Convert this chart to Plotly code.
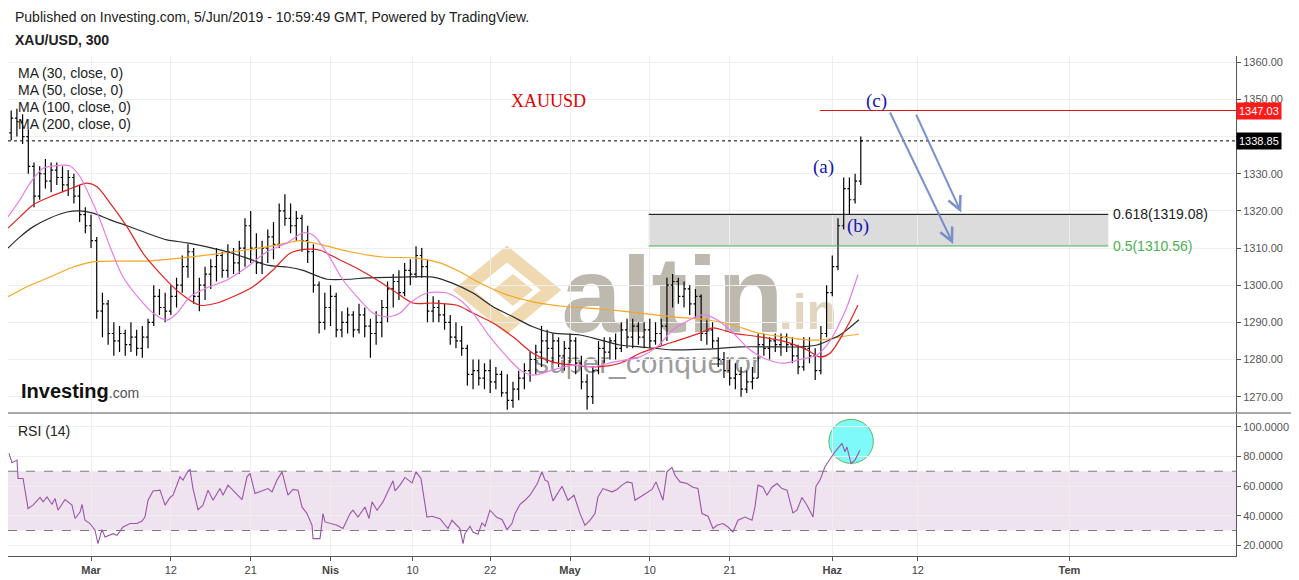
import plotly.graph_objects as go

# ---------------- data ----------------
# 5-hour XAU/USD bars, sampled at half trading-day steps; day 0 = 1 Mar 2019
bar_open = [1341, 1345, 1344, 1340, 1332, 1324, 1330, 1328, 1331, 1329,
            1327, 1329, 1324, 1319, 1316, 1312, 1293, 1295, 1287, 1285,
            1287, 1284, 1286, 1283, 1286, 1290, 1297, 1294, 1293, 1297,
            1300, 1305, 1309, 1297, 1300, 1303, 1305, 1308, 1304, 1309,
            1306, 1310, 1316, 1310, 1306, 1310, 1313, 1311, 1320, 1318,
            1316, 1318, 1312, 1309, 1300, 1290, 1294, 1297, 1288, 1290,
            1292, 1288, 1292, 1289, 1287, 1290, 1294, 1299, 1301, 1298,
            1304, 1303, 1308, 1305, 1293, 1294, 1292, 1290, 1286, 1285,
            1283, 1276, 1277, 1275, 1277, 1274, 1276, 1271, 1269, 1272,
            1275, 1277, 1280, 1282, 1285, 1283, 1285, 1281, 1283, 1285,
            1279, 1274, 1270, 1277, 1283, 1282, 1285, 1283, 1288, 1286,
            1289, 1286, 1288, 1285, 1287, 1289, 1300, 1301, 1297, 1299,
            1295, 1297, 1287, 1288, 1285, 1280, 1277, 1275, 1276, 1272,
            1274, 1275, 1284, 1283, 1285, 1284, 1286, 1284, 1281, 1278,
            1283, 1281, 1277, 1287, 1298, 1305, 1316, 1326, 1323, 1328]
bar_high = [1347, 1347.5, 1346, 1342, 1333, 1332, 1334, 1333, 1333, 1332,
            1331, 1330, 1327, 1321, 1319, 1313, 1298, 1296, 1290, 1289,
            1288, 1290, 1288, 1289, 1291, 1300, 1299, 1298, 1300, 1302,
            1308, 1311, 1310, 1302, 1305, 1307, 1310, 1309, 1311, 1310,
            1312, 1318, 1320, 1314, 1312, 1315, 1317, 1322, 1324.5, 1322,
            1320, 1319, 1316, 1311, 1301, 1298, 1300, 1298, 1293, 1294,
            1293, 1295, 1294, 1291, 1293, 1296, 1301, 1303, 1304, 1306,
            1307, 1310.5, 1310, 1307, 1297, 1296, 1295, 1292, 1290, 1289,
            1284, 1280, 1280, 1279, 1280, 1278, 1277, 1276, 1274, 1277,
            1279, 1282, 1284, 1289, 1288, 1287, 1286, 1285, 1287, 1286,
            1281, 1276, 1278, 1285, 1286, 1286, 1287, 1290, 1291, 1291,
            1290, 1290, 1291, 1290, 1291, 1302, 1303, 1302, 1301, 1300,
            1299, 1297.5, 1291, 1290, 1286, 1282, 1280, 1279, 1278, 1277,
            1278, 1287, 1287, 1286, 1287, 1287, 1287, 1286, 1284, 1286,
            1286, 1283, 1289, 1300, 1308, 1318, 1329, 1329, 1330, 1340]
bar_low = [1339, 1340, 1338, 1330, 1321, 1323, 1326, 1325, 1327, 1325,
           1324, 1322, 1317, 1314, 1310, 1291, 1286, 1284, 1281, 1282,
           1281, 1282, 1281, 1280.5, 1283, 1289, 1292, 1290, 1292, 1294,
           1298, 1302, 1295, 1293, 1296, 1299, 1301, 1302, 1302, 1303,
           1303, 1305, 1306, 1303, 1303, 1306, 1307, 1310, 1316, 1314,
           1312, 1309, 1306, 1298, 1287, 1288, 1289, 1286, 1286, 1287,
           1286, 1287, 1286, 1280.5, 1284, 1286, 1290, 1294, 1296, 1297,
           1300, 1302, 1302, 1290, 1290, 1290, 1288, 1284, 1283, 1281,
           1273, 1272, 1273, 1272, 1271, 1272, 1270, 1266.5, 1267, 1269,
           1272, 1274, 1276, 1278, 1279, 1279, 1278, 1277, 1279, 1276,
           1272, 1266.5, 1268, 1276, 1279, 1280, 1280, 1282, 1283, 1283,
           1284, 1283, 1283, 1284, 1284, 1285, 1294, 1295, 1294, 1292,
           1291, 1285, 1284, 1283, 1278, 1275, 1273, 1272, 1270, 1271,
           1272, 1275, 1281, 1280, 1282, 1281, 1282, 1279, 1276, 1277,
           1279, 1274.5, 1276, 1286, 1297, 1304, 1315, 1319, 1322, 1327]
bar_close = [1345, 1344, 1340, 1332, 1324, 1330, 1328, 1331, 1329, 1327,
             1329, 1324, 1319, 1316, 1312, 1293, 1295, 1287, 1285, 1287,
             1284, 1286, 1283, 1286, 1290, 1297, 1294, 1293, 1297, 1300,
             1305, 1309, 1297, 1300, 1303, 1305, 1308, 1304, 1309, 1306,
             1310, 1316, 1310, 1306, 1310, 1313, 1311, 1320, 1318, 1316,
             1318, 1312, 1309, 1300, 1290, 1294, 1297, 1288, 1290, 1292,
             1288, 1292, 1289, 1287, 1290, 1294, 1299, 1301, 1298, 1304,
             1303, 1308, 1305, 1293, 1294, 1292, 1290, 1286, 1285, 1283,
             1276, 1277, 1275, 1277, 1274, 1276, 1271, 1269, 1272, 1275,
             1277, 1280, 1282, 1285, 1283, 1285, 1281, 1283, 1285, 1279,
             1274, 1270, 1277, 1283, 1282, 1285, 1283, 1288, 1286, 1289,
             1286, 1288, 1285, 1287, 1289, 1300, 1301, 1297, 1299, 1295,
             1297, 1287, 1288, 1285, 1280, 1277, 1275, 1276, 1272, 1274,
             1275, 1284, 1283, 1285, 1284, 1286, 1284, 1281, 1278, 1283,
             1281, 1277, 1287, 1298, 1305, 1316, 1326, 1323, 1328, 1338.85]
first_bar_day = -7.0
bar_step = 0.5
bar_day = [first_bar_day + bar_step * i for i in range(len(bar_close))]

ma30_day = [-7.28, -6.23, -5.35, -4.21, -3.33, -1.84, -0.96, -0.09, 0.79, 1.67,
            2.81, 4.30, 5.44, 6.66, 7.54, 8.68, 10.17, 11.92, 13.68, 15.43,
            17.19, 18.59, 19.47, 20.69, 22.10, 23.59, 24.73, 25.95, 27.09, 27.97,
            29.46, 31.21, 32.35, 33.49, 34.98, 36.48, 37.62, 38.75, 40.51, 42.26,
            44.02, 45.77, 48.14, 49.63, 51.03, 52.52, 53.66, 54.89, 56.29, 57.78,
            59.27, 60.68, 62.17, 63.66, 64.80, 65.67, 66.29, 67.25]
ma30_val = [1318.4, 1323.0, 1327.5, 1331.5, 1332.1, 1332.1, 1329.2, 1323.8, 1317.6, 1310.3,
            1302.2, 1296.1, 1292.5, 1290.6, 1292.5, 1296.9, 1299.3, 1301.4, 1304.9, 1309.0,
            1311.4, 1314.1, 1313.5, 1308.7, 1301.4, 1296.0, 1292.5, 1291.5, 1292.5, 1295.2,
            1297.9, 1297.9, 1296.0, 1292.5, 1286.1, 1280.7, 1277.2, 1275.8, 1277.2, 1278.5,
            1278.0, 1279.3, 1280.7, 1283.4, 1288.0, 1290.7, 1292.0, 1290.7, 1287.2, 1282.6,
            1280.0, 1279.0, 1280.0, 1281.2, 1285.0, 1290.0, 1294.2, 1302.8]

ma50_day = [-7.28, -6.23, -5.09, -3.59, -2.10, -0.96, -0.35, 0.53, 1.67, 3.16,
            4.56, 6.05, 7.80, 9.56, 11.05, 12.45, 14.20, 15.96, 17.45, 18.94,
            20.08, 21.83, 23.59, 25.08, 26.83, 28.23, 29.99, 32.09, 33.49, 35.25,
            37.00, 38.75, 40.51, 42.26, 44.02, 46.38, 48.14, 51.03, 53.40, 54.54,
            56.29, 58.66, 61.03, 62.78, 63.92, 64.80, 66.29, 67.25]
ma50_val = [1315.4, 1318.4, 1321.6, 1323.8, 1325.6, 1327.0, 1327.5, 1326.5, 1322.1, 1315.7,
            1308.6, 1303.2, 1297.9, 1294.6, 1295.2, 1296.9, 1299.6, 1304.1, 1308.6, 1309.7,
            1309.4, 1306.8, 1304.1, 1301.4, 1297.9, 1295.2, 1295.2, 1294.6, 1292.5, 1289.8,
            1286.1, 1281.7, 1279.3, 1278.5, 1278.0, 1279.0, 1281.7, 1284.7, 1287.1, 1288.5,
            1287.1, 1286.1, 1284.7, 1282.6, 1280.7, 1281.7, 1288.8, 1294.7]

ma100_day = [-7.28, -6.23, -5.09, -3.59, -2.10, -0.96, 0.18, 1.67, 3.16, 4.91,
             6.66, 8.42, 10.17, 11.92, 13.68, 15.43, 17.19, 18.59, 20.08, 20.69,
             22.71, 24.20, 27.09, 29.99, 31.74, 33.49, 35.25, 37.00, 38.75, 40.51,
             42.88, 44.63, 46.38, 48.14, 51.03, 54.01, 56.90, 59.80, 62.17, 63.66,
             64.80, 65.67, 66.29, 67.34]
ma100_val = [1310.0, 1313.0, 1315.7, 1318.1, 1319.7, 1320.0, 1319.4, 1317.6, 1316.0, 1314.0,
             1312.2, 1311.4, 1310.3, 1309.0, 1307.3, 1305.4, 1304.9, 1304.0, 1302.2, 1301.6,
             1301.6, 1302.0, 1302.2, 1302.2, 1300.5, 1297.9, 1294.2, 1291.5, 1288.8, 1287.1,
             1286.6, 1285.3, 1283.9, 1283.4, 1282.6, 1282.8, 1283.4, 1283.4, 1283.4, 1283.9,
             1285.3, 1286.6, 1288.0, 1290.7]

ma200_day = [-7.28, -5.61, -3.59, -1.58, 0.18, 2.28, 4.91, 7.19, 9.56, 12.45,
             15.43, 17.71, 18.33, 20.08, 22.71, 25.60, 28.58, 30.60, 32.35, 34.11,
             36.48, 38.75, 41.74, 44.63, 46.38, 48.14, 51.03, 54.01, 56.29, 58.40,
             60.68, 62.78, 64.18, 65.67, 67.34]
ma200_val = [1296.9, 1299.6, 1302.2, 1304.9, 1306.3, 1306.5, 1306.5, 1307.1, 1307.9, 1309.0,
             1310.3, 1311.7, 1312.0, 1311.0, 1309.0, 1307.6, 1307.3, 1306.0, 1303.6, 1300.6,
             1297.4, 1295.5, 1294.2, 1293.6, 1293.1, 1292.5, 1291.5, 1290.7, 1289.3, 1287.2,
             1286.1, 1285.3, 1285.3, 1286.1, 1286.8]

rsi_day = [-7.19, -6.93, -6.49, -6.40, -5.96, -5.52, -5.09, -4.47, -4.21, -3.86,
           -3.42, -3.16, -2.89, -2.28, -1.67, -1.40, -0.96, -0.79, -0.53, -0.09,
           0.35, 0.61, 0.96, 1.23, 1.93, 2.28, 2.81, 3.42, 4.03, 4.47,
           4.73, 5.00, 5.44, 6.05, 6.49, 6.93, 7.19, 7.80, 8.07, 8.51,
           8.68, 8.94, 9.38, 9.82, 10.26, 10.70, 11.31, 11.57, 12.01, 12.45,
           13.24, 13.68, 13.94, 14.38, 15.08, 15.52, 15.87, 16.31, 16.75, 17.27,
           17.71, 18.15, 18.50, 18.94, 19.38, 19.47, 20.08, 20.34, 20.52, 21.13,
           21.57, 22.10, 22.71, 22.97, 23.41, 24.02, 24.38, 24.64, 25.08, 25.60,
           26.04, 26.48, 26.66, 27.09, 27.53, 28.15, 28.50, 28.93, 29.46, 29.90,
           30.60, 31.30, 31.65, 32.09, 32.35, 32.62, 32.79, 33.23, 33.49, 33.93,
           34.28, 34.55, 34.98, 35.60, 36.04, 36.48, 36.91, 37.18, 37.62, 38.05,
           38.49, 39.11, 39.54, 39.81, 40.07, 40.51, 41.30, 41.82, 42.35, 42.88,
           43.31, 43.75, 44.19, 44.45, 44.89, 45.68, 46.12, 46.56, 47.00, 47.44,
           47.70, 48.40, 49.19, 49.54, 49.89, 50.15, 50.50, 50.94, 51.21, 51.64,
           52.26, 52.78, 53.22, 53.57, 54.10, 54.54, 54.89, 55.41, 55.85, 56.29,
           56.73, 57.34, 57.96, 58.22, 58.48, 58.92, 59.27, 59.71, 60.15, 60.59,
           61.03, 61.20, 61.55, 61.90, 62.34, 62.78, 63.31, 63.57, 63.92, 64.36,
           64.80, 65.23, 65.85, 66.11, 66.29, 66.64, 66.99, 67.43]
rsi_val = [82.0, 75.7, 77.5, 65.1, 65.1, 44.8, 47.1, 52.3, 49.3, 52.7,
           47.7, 51.6, 43.7, 50.9, 47.1, 38.1, 42.5, 47.7, 36.9, 34.7,
           30.2, 21.2, 30.6, 25.6, 27.9, 26.8, 32.4, 34.7, 34.7, 36.4,
           39.1, 50.4, 56.7, 57.2, 47.1, 52.3, 53.8, 66.2, 64.0, 70.3,
           71.2, 58.3, 44.1, 47.1, 57.2, 50.4, 58.3, 53.8, 60.6, 57.2,
           50.9, 66.2, 68.5, 55.0, 57.2, 58.3, 56.1, 64.0, 69.6, 53.8,
           57.7, 57.2, 45.9, 41.4, 33.5, 24.5, 24.5, 41.4, 35.8, 34.2,
           33.5, 31.3, 41.4, 43.7, 39.1, 45.9, 38.1, 49.3, 43.7, 49.3,
           56.1, 63.5, 56.7, 60.6, 65.8, 62.1, 69.6, 65.1, 39.1, 39.6,
           38.0, 31.3, 36.9, 33.5, 31.3, 21.2, 27.9, 32.9, 29.0, 27.5,
           35.1, 32.9, 43.7, 38.7, 37.4, 30.6, 34.7, 41.4, 47.7, 50.4,
           53.8, 61.3, 69.6, 64.0, 63.0, 50.0, 59.9, 50.4, 53.8, 41.4,
           33.5, 36.9, 41.4, 52.7, 58.3, 56.1, 57.7, 60.6, 62.8, 62.1,
           50.4, 53.8, 57.7, 62.8, 56.1, 50.4, 69.6, 72.5, 67.3, 62.8,
           61.7, 59.2, 58.3, 41.4, 39.6, 31.3, 33.5, 34.7, 32.4, 29.0,
           36.9, 39.1, 36.9, 45.9, 60.6, 59.2, 53.8, 59.2, 61.7, 58.3,
           57.2, 51.6, 41.9, 43.7, 52.3, 47.1, 39.1, 59.9, 64.0, 73.0,
           78.6, 83.1, 88.8, 83.1, 86.3, 75.2, 77.5, 84.2]

tick_days = [0, 7, 14, 21, 28.2, 35, 42, 49, 56, 65, 72.5, 85.8]
tick_text = ["<b>Mar</b>", "12", "21", "<b>Nis</b>", "10", "22", "<b>May</b>",
             "10", "21", "<b>Haz</b>", "12", "<b>Tem</b>"]
price_ticks = [1270, 1280, 1290, 1300, 1310, 1320, 1330, 1340, 1350, 1360]
rsi_ticks = [20, 40, 60, 80, 100]
rsi_upper, rsi_lower = 70, 30

last_price = 1338.85
target_price = 1347.03
fib_levels = [0.618, 0.5]
fib_prices = [1319.08, 1310.56]
fib_start_day, fib_end_day = 48.9, 89.2
target_start_day = 63.9
# wave arrows: (tail day, tail price, head day, head price)
arrows = [(70.0, 1346.9, 75.6, 1311.1), (72.3, 1346.3, 76.3, 1319.6)]
wave_labels = [("(c)", 68.9, 1349.6), ("(a)", 64.2, 1331.8), ("(b)", 67.25, 1316.0)]
rsi_circle = (64.7, 68.6, 75.3, 105.0)

# ---------------- layout geometry ----------------
W, H = 1299, 580
ML, MR, MT, MB = 8, 63, 56, 24
PW, PH = W - ML - MR, H - MT - MB
X_RANGE = [-7.28, 100.4]
SPLIT_PX = 413


def px(x):
    return (x - ML) / PW


def py(y):
    return (H - MB - y) / PH


FONT = "Liberation Sans, Arial, sans-serif"
SERIF = "Liberation Serif, Times New Roman, serif"

fig = go.Figure()

fig.add_trace(go.Ohlc(
    x=bar_day, open=bar_open, high=bar_high, low=bar_low, close=bar_close,
    increasing=dict(line=dict(color="#000000", width=1.2)),
    decreasing=dict(line=dict(color="#000000", width=1.2)),
    tickwidth=0.35, xaxis="x", yaxis="y", showlegend=False, hoverinfo="skip"))

for d, v, c in [(ma200_day, ma200_val, "#f5a623"), (ma100_day, ma100_val, "#2b2b2b"),
                (ma50_day, ma50_val, "#e02424"), (ma30_day, ma30_val, "#e87be8")]:
    fig.add_trace(go.Scatter(x=d, y=v, mode="lines", xaxis="x", yaxis="y",
                             line=dict(color=c, width=1.2, shape="spline", smoothing=0.8),
                             showlegend=False, hoverinfo="skip"))

fig.add_trace(go.Scatter(x=rsi_day, y=rsi_val, mode="lines", xaxis="x", yaxis="y2",
                         line=dict(color="#9a55a8", width=1.1),
                         showlegend=False, hoverinfo="skip"))

shapes = []
# RSI band and bounds
shapes.append(dict(type="rect", xref="paper", yref="y2", x0=0, x1=1, y0=rsi_lower, y1=rsi_upper,
                   fillcolor="#efe3f0", line=dict(width=0), layer="below"))
for lv in (rsi_lower, rsi_upper):
    shapes.append(dict(type="line", xref="paper", yref="y2", x0=0, x1=1, y0=lv, y1=lv,
                       line=dict(color="#7a7a7a", width=1, dash="dash"), layer="below"))
# cyan circle on RSI
shapes.append(dict(type="circle", xref="x", yref="y2", x0=rsi_circle[0], x1=rsi_circle[1],
                   y0=rsi_circle[2], y1=rsi_circle[3], fillcolor="#7ffafa",
                   line=dict(color="#5cb85c", width=1), layer="below"))
# fib zone
shapes.append(dict(type="rect", xref="x", yref="y", x0=fib_start_day, x1=fib_end_day,
                   y0=fib_prices[1], y1=fib_prices[0], fillcolor="#dcdcdc",
                   line=dict(width=0), layer="below"))
shapes.append(dict(type="line", xref="x", yref="y", x0=fib_start_day, x1=fib_end_day,
                   y0=fib_prices[0], y1=fib_prices[0], line=dict(color="#000000", width=1)))
shapes.append(dict(type="line", xref="x", yref="y", x0=fib_start_day, x1=fib_end_day,
                   y0=fib_prices[1], y1=fib_prices[1], line=dict(color="#4caf50", width=1)))
# target line and last price line
shapes.append(dict(type="line", xref="x", yref="y", x0=target_start_day, x1=X_RANGE[1],
                   y0=target_price, y1=target_price, line=dict(color="#e01515", width=1)))
shapes.append(dict(type="line", xref="paper", yref="y", x0=0, x1=1,
                   y0=last_price, y1=last_price, line=dict(color="#000000", width=1, dash="dot")))
# pane separator
shapes.append(dict(type="line", xref="paper", yref="paper", x0=0, x1=px(1291),
                   y0=py(SPLIT_PX), y1=py(SPLIT_PX), line=dict(color="#555555", width=1)))

# watermark (drawn below the bars)
cx, cy = 507, 290
shapes.append(dict(type="path", xref="paper", yref="paper", layer="below",
                   path=f"M {px(cx-44)} {py(cy)} L {px(cx)} {py(cy-36)} L {px(cx+44)} {py(cy)} "
                        f"L {px(cx)} {py(cy+36)} Z",
                   fillcolor="rgba(0,0,0,0)", line=dict(color="rgba(222,180,100,0.5)", width=13)))
shapes.append(dict(type="path", xref="paper", yref="paper", layer="below",
                   path=f"M {px(cx-14)} {py(cy)} L {px(cx+6)} {py(cy-16)} L {px(cx+26)} {py(cy)} "
                        f"L {px(cx+6)} {py(cy+16)} Z",
                   fillcolor="rgba(222,180,100,0.5)", line=dict(width=0)))
for txt, x0, x1, y0, y1, size, col, wt in [
        ("altin", 555, 790, 236, 332, 108, "rgba(125,115,95,0.5)", "bold"),
        (".in", 778, 838, 282, 332, 50, "rgba(205,185,145,0.6)", "bold"),
        ("super_conqueror", 525, 770, 342, 376, 30, "rgba(70,70,70,0.55)", "normal")]:
    shapes.append(dict(type="rect", xref="paper", yref="paper", layer="below",
                       x0=px(x0), x1=px(x1), y0=py(y1), y1=py(y0),
                       fillcolor="rgba(0,0,0,0)", line=dict(width=0),
                       label=dict(text=txt, textposition="middle center",
                                  font=dict(family=FONT, size=size, color=col, weight=wt))))

ann = []


def text(t, x, y, size=14, color="#222222", anchor="left", family=FONT, **kw):
    ann.append(dict(text=t, x=x, y=y, xref="paper", yref="paper", showarrow=False,
                    xanchor=anchor, yanchor="middle", font=dict(family=family, size=size, color=color), **kw))


text("Published on Investing.com, 5/Jun/2019 - 10:59:49 GMT, Powered by TradingView.", px(13), py(17))
text("<b>XAU/USD, 300</b>", px(13), py(40))
for i, n in enumerate([30, 50, 100, 200]):
    text(f"MA ({n}, close, 0)", px(16), py(73 + 17 * i))
text("RSI (14)", px(16), py(431))
text("<b>Investing</b><span style='font-size:14px;color:#555'>.com</span>", px(19), py(391),
     size=20, color="#111111")

for t, d, p in wave_labels:
    ann.append(dict(text=t, x=d, y=p, xref="x", yref="y", showarrow=False,
                    font=dict(family=SERIF, size=19, color="#1414b4")))
ann.append(dict(text="XAUUSD", x=40.1, y=1349.6, xref="x", yref="y", showarrow=False,
                font=dict(family=SERIF, size=18, color="#e00000")))
for lvl, p, col in zip(fib_levels, fib_prices, ["#222222", "#4caf50"]):
    ann.append(dict(text=f"{lvl}({p:.2f})", x=fib_end_day, y=p, xref="x", yref="y",
                    showarrow=False, xanchor="left", xshift=3,
                    font=dict(family=FONT, size=14, color=col)))
for tx, ty, hx, hy in arrows:
    ann.append(dict(x=hx, y=hy, ax=tx, ay=ty, xref="x", yref="y", axref="x", ayref="y",
                    text="", showarrow=True, arrowhead=5, arrowsize=1.3, arrowwidth=2,
                    arrowcolor="rgba(110,135,200,0.9)"))
for p, bg in [(target_price, "#ff1a1a"), (last_price, "#000000")]:
    ann.append(dict(text=f"{p:.2f}", x=1, y=p, xref="paper", yref="y", showarrow=False,
                    xanchor="left", yanchor="middle", bgcolor=bg, borderpad=2,
                    font=dict(family=FONT, size=11, color="#ffffff")))

axis_common = dict(showgrid=True, gridcolor="#eeeeee", gridwidth=1, zeroline=False,
                   showline=True, linecolor="#555555", linewidth=1, automargin=False,
                   ticks="outside", ticklen=4, tickcolor="#555555",
                   tickfont=dict(family=FONT, size=11, color="#555555"))

# the last-price box covers the 1340 label, as on the original chart
price_ticktext = ["" if v == 1340 else f"{v:.2f}" for v in price_ticks]

fig.update_layout(
    width=W, height=H, margin=dict(l=ML, r=MR, t=MT, b=MB, autoexpand=False),
    paper_bgcolor="#ffffff", plot_bgcolor="#ffffff", showlegend=False,
    xaxis=dict(range=X_RANGE, anchor="y2", tickvals=tick_days, ticktext=tick_text,
               rangeslider=dict(visible=False), **axis_common),
    yaxis=dict(domain=[py(SPLIT_PX), 1], range=[1265.6, 1361.7], side="right",
               tickvals=price_ticks, ticktext=price_ticktext, **axis_common),
    yaxis2=dict(domain=[0, py(SPLIT_PX + 1)], range=[12.8, 108.6], side="right",
                tickvals=rsi_ticks, ticktext=[f"{v:.4f}" for v in rsi_ticks], **axis_common),
    shapes=shapes, annotations=ann,
)
fig.update_xaxes(tickfont=dict(family=FONT, size=11, color="#444444"))

fig.write_html("out.html", config={"displayModeBar": False},
               post_script="document.body.style.margin='0';")
